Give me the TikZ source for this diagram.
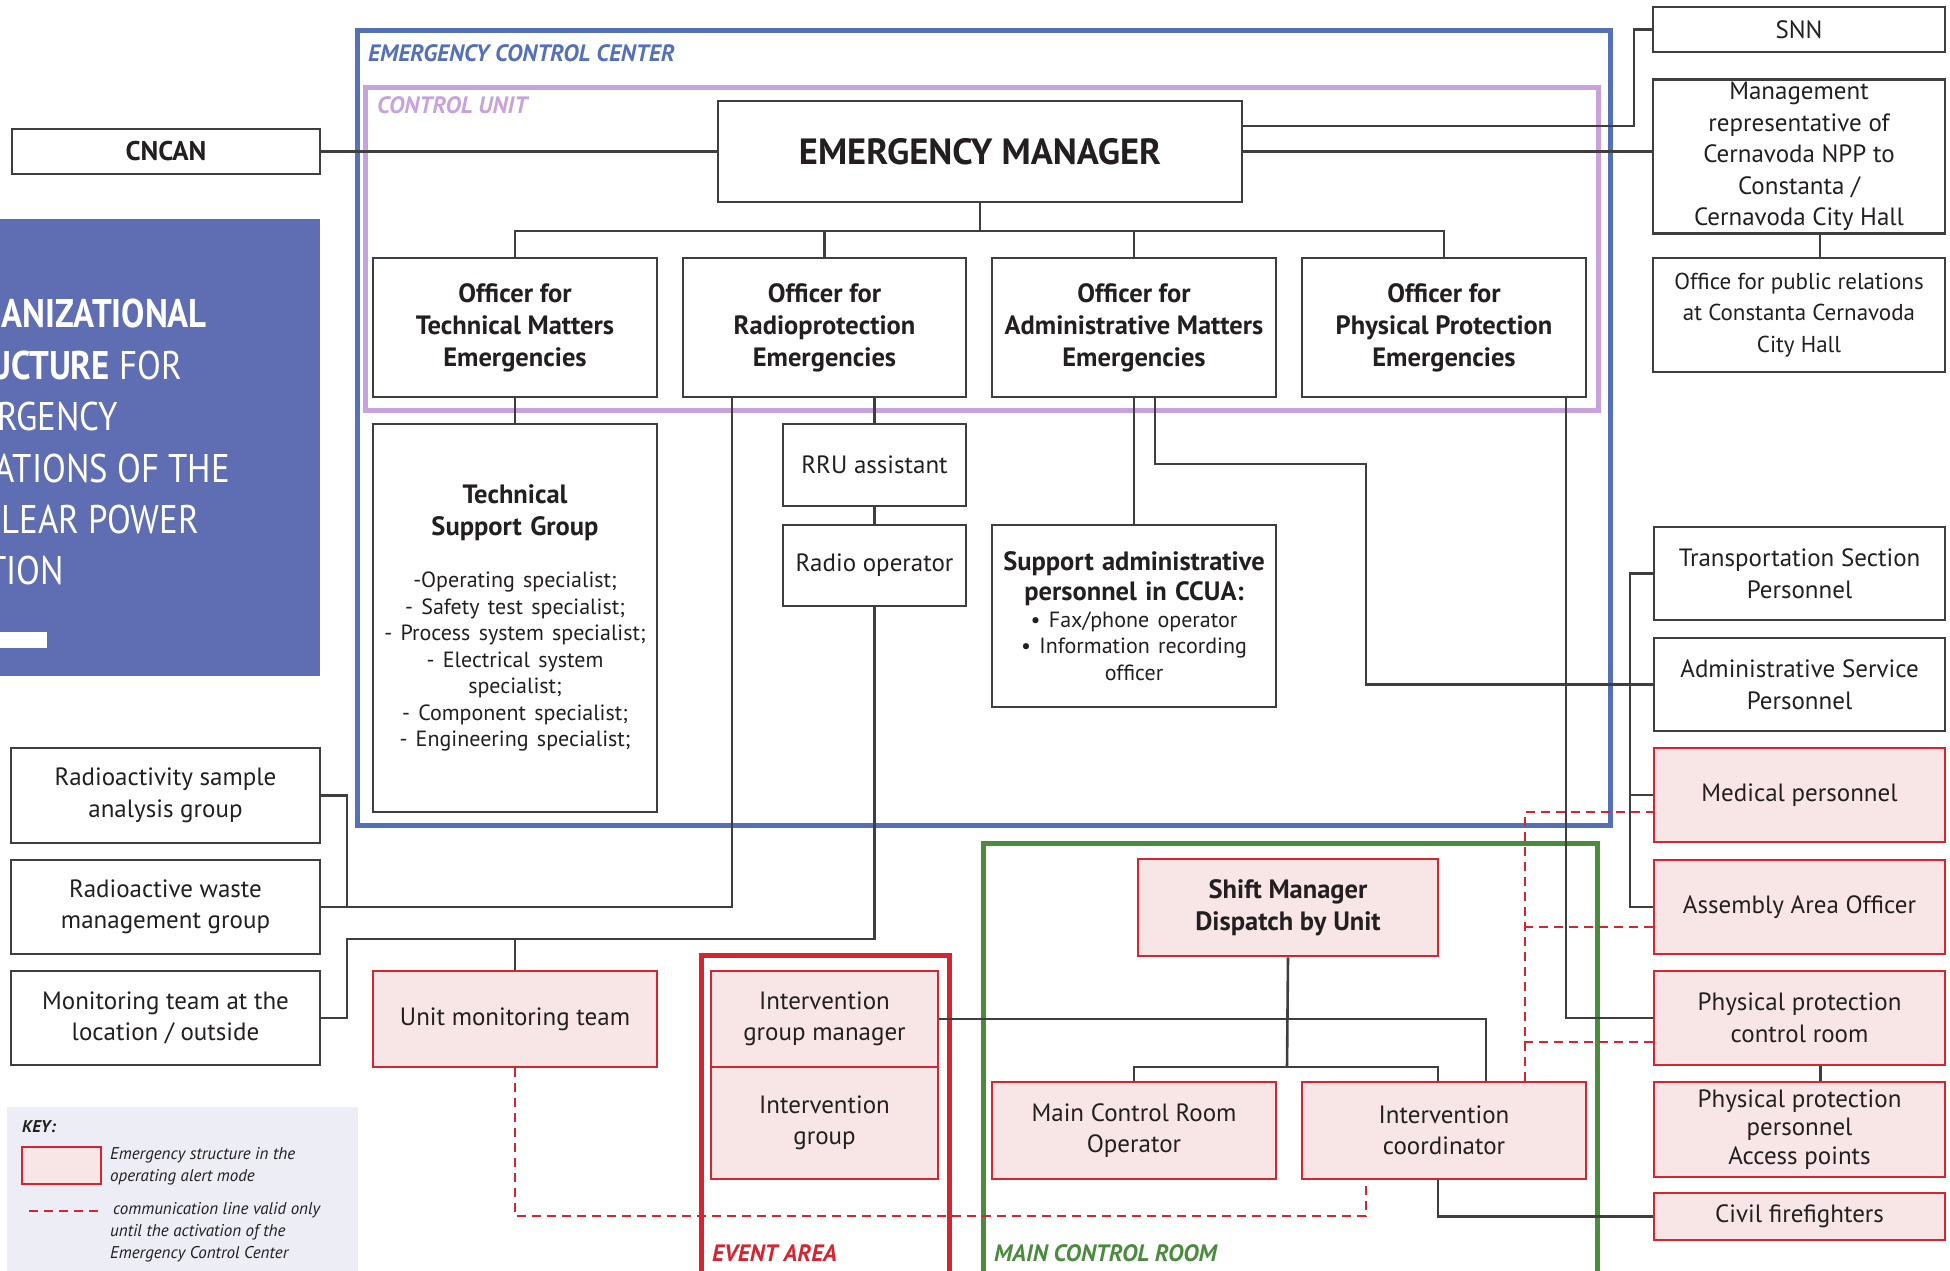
\documentclass[tikz,border=0pt]{standalone}
\usepackage{fontspec}
\setmainfont{PT Sans}
\newfontfamily\titlefont[FakeStretch=0.87]{PT Sans}

\definecolor{ink}{HTML}{231F20}
\definecolor{linegray}{HTML}{3E3E3E}
\definecolor{eccblue}{HTML}{5471B8}
\definecolor{titleblue}{HTML}{5F6EB2}
\definecolor{unitpurple}{HTML}{C8A2DC}
\definecolor{alertred}{HTML}{D42530}
\definecolor{alertpink}{HTML}{F8E6E7}
\definecolor{roomgreen}{HTML}{4B8B3E}
\definecolor{keybg}{HTML}{ECEDF5}

\tikzset{
  wh/.style 2 args={minimum width=#1, minimum height=#2},
  box/.style={draw=linegray, fill=white, line width=2.6pt, align=center, inner sep=0pt,
    text=ink, font=\fontsize{25}{31.5}\selectfont},
  alert/.style={box, draw=alertred, fill=alertpink},
  head/.style={font=\bfseries\fontsize{26.5}{32}\selectfont},
  wire/.style={draw=linegray, line width=2.6pt},
  comm/.style={draw=alertred, line width=2.6pt, dash pattern=on 9pt off 6pt},
  frame/.style={line width=5pt},
  area/.style={anchor=west, inner sep=0pt, font=\bfseries\itshape\fontsize{23.7}{28}\selectfont},
  ttl/.style={anchor=east, inner sep=0pt, text=white, font=\titlefont\fontsize{40}{48}\selectfont},
  keytxt/.style={anchor=west, align=left, inner sep=0pt, text=ink, font=\itshape\fontsize{17}{22}\selectfont},
}

\begin{document}
\begin{tikzpicture}[x=1pt,y=-1pt]
\useasboundingbox (0,0) rectangle (1950,1270);

% title panel
\fill[titleblue] (-2,219) rectangle (320,676);
\fill[white] (-2,632) rectangle (47,648);
\node[ttl] (t1) at (207,313) {\bfseries ANIZATIONAL};
\node[ttl] (t2) at (182,365) {\bfseries UCTURE\mdseries{} FOR};
\node[ttl] (t3) at (118,416) {RGENCY};
\node[ttl] (t4) at (230,468) {ATIONS OF THE};
\node[ttl] (t5) at (199,519) {LEAR POWER};
\node[ttl] (t6) at (64,570) {TION};

% areas
\draw[frame, eccblue] (357,30) rectangle (1610,825);
\draw[frame, unitpurple] (365,87) rectangle (1598,410);
\draw[frame, alertred] (701,955) rectangle (949,1285);
\draw[frame, roomgreen] (983,843) rectangle (1597,1285);
\node[area, text=eccblue] (eccl) at (368,53) {EMERGENCY CONTROL CENTER};
\node[area, text=unitpurple] (cul) at (377,105) {CONTROL UNIT};
\node[area, text=alertred] (eal) at (712,1253) {EVENT AREA};
\node[area, text=roomgreen] (mcrl) at (994,1253) {MAIN CONTROL ROOM};

% key
\fill[keybg] (7,1107) rectangle (358,1285);
\node[keytxt] (keyhead) at (22,1127) {\bfseries KEY:};
\node[alert, wh={79}{37}] (keybox) at (61.5,1165.5) {};
\node[keytxt] (keyalert) at (110,1166) {Emergency structure in the\\operating alert mode};
\coordinate (keyd1) at (29,1211);
\coordinate (keyd2) at (100,1211);
\draw[comm] (keyd1) -- (keyd2);
\node[keytxt] (keycomm) at (110,1232) {\hspace{3pt}communication line valid only\\until the activation of the\\Emergency Control Center};

% top level
\node[box, wh={308}{45}, font=\bfseries\fontsize{27}{32}\selectfont] (cncan) at (166,151.5) {CNCAN};
\node[box, wh={292}{45}] (snn) at (1799,29.5) {SNN};
\node[box, wh={292}{154}] (mgmt) at (1799,156.5) {Management\\representative of\\Cernavoda NPP to\\Constanta /\\Cernavoda City Hall};
\node[box, wh={292}{114}, font=\fontsize{23}{31.5}\selectfont] (pubrel) at (1799,315) {Office for public relations\\at Constanta Cernavoda\\City Hall};
\node[box, wh={524}{101}, font=\bfseries\fontsize{36.5}{42}\selectfont] (em) at (980,151.5) {EMERGENCY MANAGER};

\node[box, head, wh={284}{139}] (off1) at (515,327.5) {Officer for\\Technical Matters\\Emergencies};
\node[box, head, wh={283}{139}] (off2) at (824.5,327.5) {Officer for\\Radioprotection\\Emergencies};
\node[box, head, wh={284}{139}] (off3) at (1134,327.5) {Officer for\\Administrative Matters\\Emergencies};
\node[box, head, wh={284}{139}] (off4) at (1444,327.5) {Officer for\\Physical Protection\\Emergencies};

% support groups
\node[box, wh={284}{388}, text width=278pt] (tsg) at (515,618) {{\bfseries\fontsize{26.5}{32}\selectfont Technical\\Support Group\par}\vspace{26pt}
  {\fontsize{22}{26.5}\selectfont -Operating specialist;\\- Safety test specialist;\\- Process system specialist;\\
  - Electrical system\\specialist;\\- Component specialist;\\- Engineering specialist;\par}};
\node[box, wh={183}{82}] (rru) at (874.5,465) {RRU assistant};
\node[box, wh={183}{81}] (radio) at (874.5,565.5) {Radio operator};
\node[box, wh={284}{182}, text width=278pt] (supadm) at (1134,616) {{\bfseries\fontsize{26.5}{30}\selectfont Support administrative\\personnel in CCUA:\par}
  {\fontsize{22}{26.5}\selectfont\textbullet\ Fax/phone operator\\\textbullet\ Information recording\\officer\par}};

\node[box, wh={309}{95}] (sample) at (165.5,795.5) {Radioactivity sample\\analysis group};
\node[box, wh={309}{94}] (waste) at (165.5,907) {Radioactive waste\\management group};
\node[box, wh={309}{94}] (montm) at (165.5,1018) {Monitoring team at the\\location / outside};

\node[box, wh={291}{93}] (transp) at (1799.5,573.5) {Transportation Section\\Personnel};
\node[box, wh={291}{93}] (admsvc) at (1799.5,684.5) {Administrative Service\\Personnel};
\node[alert, wh={291}{94}] (medic) at (1799.5,795) {Medical personnel};
\node[alert, wh={291}{94}] (assembly) at (1799.5,907) {Assembly Area Officer};
\node[alert, wh={291}{94}] (ppcr) at (1799.5,1018) {Physical protection\\control room};
\node[alert, wh={291}{95}, font=\fontsize{25}{28.5}\selectfont] (ppstaff) at (1799.5,1129.5) {Physical protection\\personnel\\Access points};
\node[alert, wh={291}{47}] (firefight) at (1799.5,1216.5) {Civil firefighters};

\node[alert, wh={284}{96}] (unitmon) at (515,1019) {Unit monitoring team};
\node[alert, wh={227}{96}] (igm) at (824.5,1019) {Intervention\\group manager};
\node[alert, wh={227}{112}] (ig) at (824.5,1123) {Intervention\\group};
\node[alert, head, wh={300}{97}] (shift) at (1288,907.5) {Shift Manager\\Dispatch by Unit};
\node[alert, wh={284}{97}] (mcrop) at (1134,1130.5) {Main Control Room\\Operator};
\node[alert, wh={284}{97}] (icoord) at (1444,1130.5) {Intervention\\coordinator};

% connectors
\draw[wire] (cncan.east) -- (em.west);
\coordinate (snnbend) at (1634,126);
\draw[wire] (em.east |- snnbend) -| (snnbend |- snn.west) -- (snn.west);
\draw[wire] (em.east) -- (em.east -| mgmt.west);
\draw[wire] ([xshift=21pt]mgmt.south) -- ([xshift=21pt]pubrel.north);

\coordinate (obus) at (980,231);
\draw[wire] (em.south) -- (obus);
\draw[wire] (off1.north) |- (obus) -| (off4.north);
\foreach \o in {off2,off3}
  \draw[wire] (\o.north) -- (\o.north |- obus);

\draw[wire] (off1.south) -- (tsg.north);
\draw[wire] (rru.north |- off2.south) -- (rru.north);
\draw[wire] (rru.south) -- (radio.north);
\coordinate (mbus) at (347,939);
\draw[wire] (radio.south) |- (mbus) |- (montm.east);
\draw[wire] (unitmon.north) -- (unitmon.north |- mbus);
\coordinate (wbus) at (347,907);
\draw[wire] ([xshift=-92.5pt]off2.south) |- (waste.east);
\draw[wire] (sample.east) -| (wbus);

\draw[wire] (off3.south) -- (supadm.north);
\coordinate (abend) at (1366,464);
\draw[wire] ([xshift=21pt]off3.south) |- (abend) |- (admsvc.west);
\draw[wire] ([xshift=122pt]off4.south) |- (ppcr.west);
\coordinate (rbus) at (1630,907);
\draw[wire] (transp.west) -| (rbus) -- (assembly.west);
\draw[wire] (medic.west) -- (medic.west -| rbus);
\draw[wire] ([xshift=21pt]ppcr.south) -- ([xshift=21pt]ppstaff.north);

\coordinate (sbus) at (1287,1067);
\draw[wire] (shift.south) -- (sbus);
\draw[wire] (mcrop.north) |- (sbus) -| ([xshift=-6pt]icoord.north);
\draw[wire] (igm.east) -| ([xshift=42pt]icoord.north);
\draw[wire] ([xshift=-6pt]icoord.south) |- (firefight.west);

% lines until the control center is active
\coordinate (cbus) at (515,1216);
\draw[comm] (unitmon.south) -- (cbus) -| ([xshift=-78pt]icoord.south);
\draw[comm] ([xshift=81pt]icoord.north) |- ([yshift=-17pt]medic.west);
\draw[comm] ([yshift=-20pt]assembly.west) -- ++(-129,0);
\draw[comm] ([yshift=-24pt]ppcr.west) -- ++(-129,0);
\end{tikzpicture}
\end{document}
